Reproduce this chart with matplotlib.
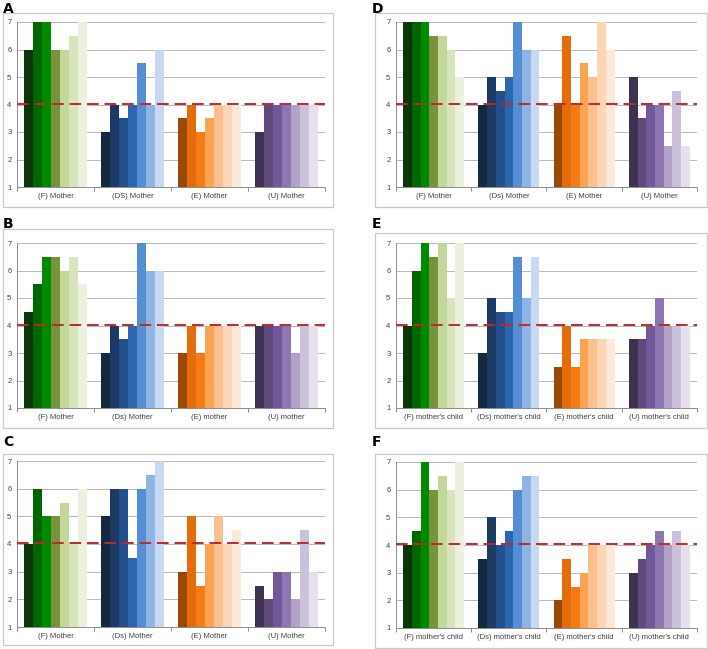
import numpy as np
import matplotlib
matplotlib.use("Agg")
import matplotlib.pyplot as plt
from matplotlib.patches import Rectangle

plt.rcParams['font.family'] = ['Liberation Sans', 'DejaVu Sans']

W, H = 708, 649

greens = ['#0A360A', '#006600', '#008A00', '#77933C', '#C4D79B', '#D8E4BC', '#EBF1DE']
blues = ['#142840', '#1B3A64', '#234F8A', '#2C66AE', '#558ED5', '#8EB4E3', '#C6D9F1']
oranges = ['#984807', '#E46C0A', '#F47B16', '#FAA452', '#FAC090', '#FCD5B5', '#FDE9D9']
purples = ['#3F3151', '#5F497A', '#71589B', '#8E77B0', '#B3A2C7', '#CCC1DA', '#E5E0EC']
palettes = [greens, blues, oranges, purples]

mother_cats = ['(F) Mother', '(Ds) Mother', '(E) Mother', '(U) Mother']
child_cats = ["(F) mother's child", "(Ds) mother's child", "(E) mother's child", "(U) mother's child"]

cats_A = ['(F) Mother', '(DS) Mother', '(E) Mother', '(U) Mother']
vals_A = [[6, 7, 7, 6, 6, 6.5, 7],
          [3, 4, 3.5, 4, 5.5, 4, 6],
          [3.5, 4, 3, 3.5, 4, 4, 4],
          [3, 4, 4, 4, 4, 4, 4]]

cats_B = ['(F) Mother', '(Ds) Mother', '(E) mother', '(U) mother']
vals_B = [[4.5, 5.5, 6.5, 6.5, 6, 6.5, 5.5],
          [3, 4, 3.5, 4, 7, 6, 6],
          [3, 4, 3, 4, 4, 4, 4],
          [4, 4, 4, 4, 3, 4, 4]]

cats_C = mother_cats
vals_C = [[4, 6, 5, 5, 5.5, 4, 6],
          [5, 6, 6, 3.5, 6, 6.5, 7],
          [3, 5, 2.5, 4, 5, 4, 4.5],
          [2.5, 2, 3, 3, 2, 4.5, 3]]

cats_D = mother_cats
vals_D = [[7, 7, 7, 6.5, 6.5, 6, 5],
          [4, 5, 4.5, 5, 7, 6, 6],
          [4, 6.5, 4, 5.5, 5, 7, 6],
          [5, 3.5, 4, 4, 2.5, 4.5, 2.5]]

cats_E = child_cats
vals_E = [[4, 6, 7, 6.5, 7, 5, 7],
          [3, 5, 4.5, 4.5, 6.5, 5, 6.5],
          [2.5, 4, 2.5, 3.5, 3.5, 3.5, 3.5],
          [3.5, 3.5, 4, 5, 4, 4, 4]]

cats_F = child_cats
vals_F = [[4, 4.5, 7, 6, 6.5, 6, 7],
          [3.5, 5, 4, 4.5, 6, 6.5, 6.5],
          [2, 3.5, 2.5, 3, 4, 4, 4],
          [3, 3.5, 4, 4.5, 4, 4.5, 4]]

threshold = 4.03

# (label, cats, vals, plot box l,t,r,b, frame l,t,r,b, letter x,y) in pixels
panels = [
    ('A', cats_A, vals_A, (17, 22, 325, 187), (3, 13, 333, 207), (3, 9)),
    ('B', cats_B, vals_B, (17, 243, 325, 408), (3, 229, 333, 428), (3, 224)),
    ('C', cats_C, vals_C, (17, 461, 325, 627), (3, 454, 333, 645), (3, 442)),
    ('D', cats_D, vals_D, (396, 22, 697, 187), (375, 13, 707, 207), (372, 9)),
    ('E', cats_E, vals_E, (396, 243, 697, 408), (375, 233, 707, 428), (372, 224)),
    ('F', cats_F, vals_F, (396, 462, 697, 628), (375, 454, 707, 648), (372, 442)),
]

fig = plt.figure(figsize=(W / 100, H / 100), dpi=100)

def fx(px):
    return px / W

def fy(py):
    return 1 - py / H

bw = 0.81 / 7
for letter, cats, vals, box, frame, lpos in panels:
    fl, ft, fr, fb = frame
    fig.patches.append(Rectangle((fx(fl), fy(fb)), fx(fr - fl), (fb - ft) / H,
                                 transform=fig.transFigure, fill=False,
                                 edgecolor='#C8C8C8', linewidth=0.9))
    fig.text(fx(lpos[0]), fy(lpos[1]), letter, fontsize=10, fontweight='bold',
             family=['DejaVu Sans'], va='center', ha='left')
    l, t, r, b = box
    ax = fig.add_axes([fx(l), fy(b), fx(r - l), (b - t) / H])
    for gi, group in enumerate(vals):
        x = gi + (np.arange(7) - 3) * bw
        ax.bar(x, np.array(group) - 1, bottom=1, width=bw, color=palettes[gi],
               linewidth=0, zorder=2)
    ax.axhline(threshold, color='#C0282D', linestyle=(0, (6, 3)), linewidth=1.4, zorder=3)
    ax.set_xlim(-0.5, 3.5)
    ax.set_ylim(1, 7)
    ax.set_yticks(range(1, 8))
    ax.yaxis.grid(True, color='#B8B8B8', linewidth=0.7, zorder=0)
    ax.set_axisbelow(True)
    for s in ['top', 'right']:
        ax.spines[s].set_visible(False)
    for s in ['left', 'bottom']:
        ax.spines[s].set_color('#8C8C8C')
        ax.spines[s].set_linewidth(0.7)
    ax.set_xticks(np.arange(-0.5, 4, 1))
    ax.set_xticklabels([])
    ax.set_xticks(range(4), minor=True)
    ax.set_xticklabels(cats, minor=True, fontsize=5.5, color='#404040')
    ax.tick_params(axis='x', which='major', length=3, width=0.7, color='#8C8C8C', direction='out')
    ax.tick_params(axis='x', which='minor', length=0, pad=4)
    ax.tick_params(axis='y', length=0, labelsize=5.5, labelcolor='#404040', pad=4)

fig.savefig('out.png', dpi=100)
